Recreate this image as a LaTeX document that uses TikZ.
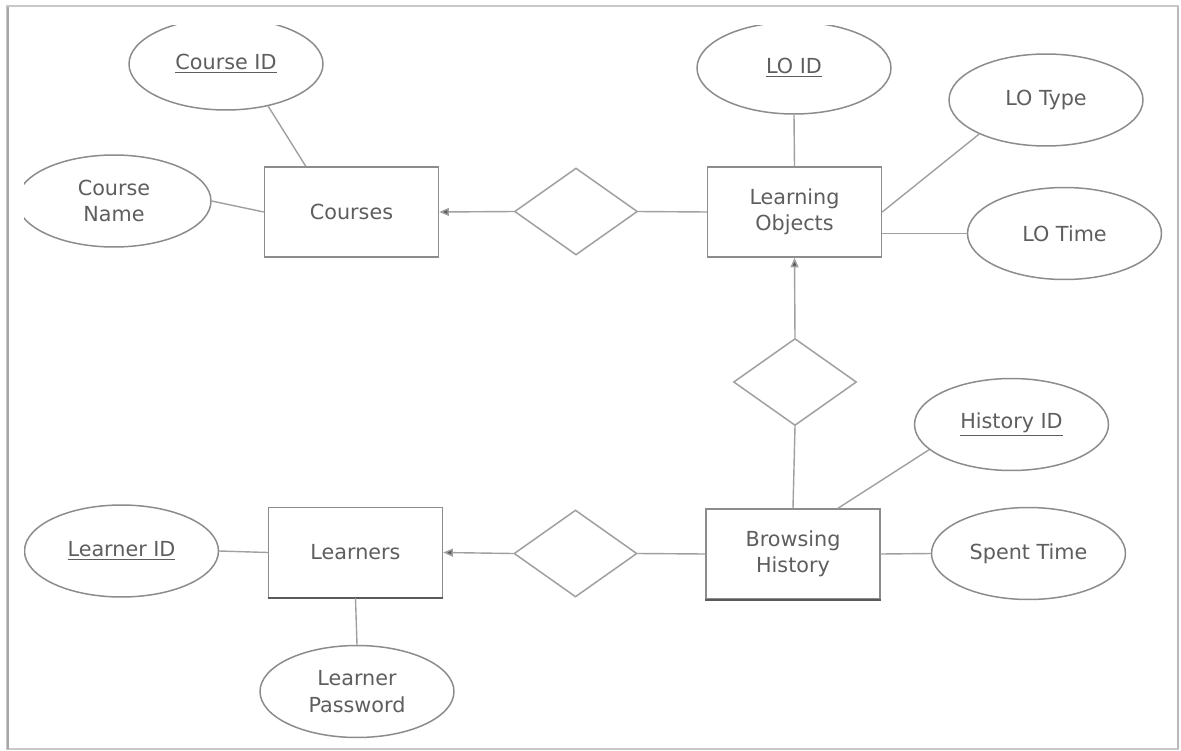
\documentclass[tikz,border=0pt]{standalone}
\usepackage{fontspec}
\setmainfont{DejaVu Sans}
\usetikzlibrary{shapes.geometric,arrows.meta}
\definecolor{linegray}{HTML}{A0A0A0}
\definecolor{edgegray}{HTML}{8C8C8C}
\definecolor{darkedge}{HTML}{5A5A5A}
\definecolor{textgray}{HTML}{5E5E5E}
\definecolor{framegray}{HTML}{C8C8C8}
\tikzset{
  base/.style={draw=edgegray, line width=0.85pt, text=textgray, inner sep=0pt,
    align=center, font=\fontsize{11.8}{15}\selectfont},
  attr/.style={base, ellipse, minimum width=3.88cm, minimum height=1.84cm},
  entity/.style={base, rectangle, minimum width=3.48cm, minimum height=1.8cm},
  rel/.style={base, diamond, draw=linegray, minimum width=2.46cm, minimum height=1.74cm},
  link/.style={draw=linegray, line width=0.8pt},
  tolink/.style={link, -{Triangle[length=5.5pt,width=4.5pt,fill=darkedge]}},
  shadeedge/.style={draw=darkedge, line width=1pt},
}
\begin{document}
\begin{tikzpicture}[x=0.02cm,y=-0.02cm]
\useasboundingbox (0,0) rectangle (1181,751);
\fill[white] (0,0) rectangle (1181,751);
% page frame
\draw[framegray, line width=0.8pt] (7,6) rectangle (1178,749);
\draw[gray!70, line width=1.4pt] (8,7) -- (8,749);
\draw[gray!55, line width=1.2pt] (1178,7) -- (1178,749);

\begin{scope}
\clip (24,25) rectangle (1172,746);
% entities
\node[entity] (courses)  at (351.5,212) {Courses};
\node[entity] (lo)       at (794.5,212) {Learning\\Objects};
\node[entity] (bh)       at (793,554)   {Browsing\\History};
\node[entity] (learners) at (355.5,552.5) {Learners};
\draw[shadeedge] (learners.south west) -- (learners.south east);
\draw[shadeedge] (bh.south west) -- (bh.south east);
% relationships
\node[rel] (rel1) at (576,211.5) {};
\node[rel] (rel2) at (795,382)   {};
\node[rel] (rel3) at (575.5,553.5) {};
% attributes
\node[attr] (cid)    at (226,64)      {\underline{Course ID}};
\node[attr] (cname)  at (114,201)     {Course\\Name};
\node[attr] (loid)   at (794,68)      {\underline{LO ID}};
\node[attr] (lotype) at (1046,100)    {LO Type};
\node[attr] (lotime) at (1064.5,233.5) {LO Time};
\node[attr] (histid) at (1011.5,424.5) {\underline{History ID}};
\node[attr] (spent)  at (1028.5,553.5) {Spent Time};
\node[attr] (lid)    at (121.5,551)   {\underline{Learner ID}};
\node[attr] (lpw)    at (357,691.5)   {Learner\\Password};

% attribute links
\draw[link] (cid.-45) -- ([xshift=0.84cm]courses.north west);
\draw[link] (cname.east) -- (courses.west);
\draw[link] (loid.south) -- (lo.north);
\draw[link] (lotype.207) -- (lo.east);
\draw[link] (lotime.west) -- (lotime.west -| lo.east);
\draw[link] (histid.197) -- ([xshift=0.9cm]bh.north);
\draw[link] (spent.west) -- (bh.east);
\draw[link] (lid.east) -- (learners.west);
\draw[link] (learners.south) -- (lpw.north);

% relationship links
\draw[tolink] (rel1.west) -- (courses.east);
\draw[link] (rel1.east) -- (lo.west);
\draw[tolink] (rel2.north) -- (lo.south);
\draw[link] (rel2.south) -- (bh.north);
\draw[tolink] (rel3.west) -- (learners.east);
\draw[link] (rel3.east) -- (bh.west);
\end{scope}
\end{tikzpicture}
\end{document}
